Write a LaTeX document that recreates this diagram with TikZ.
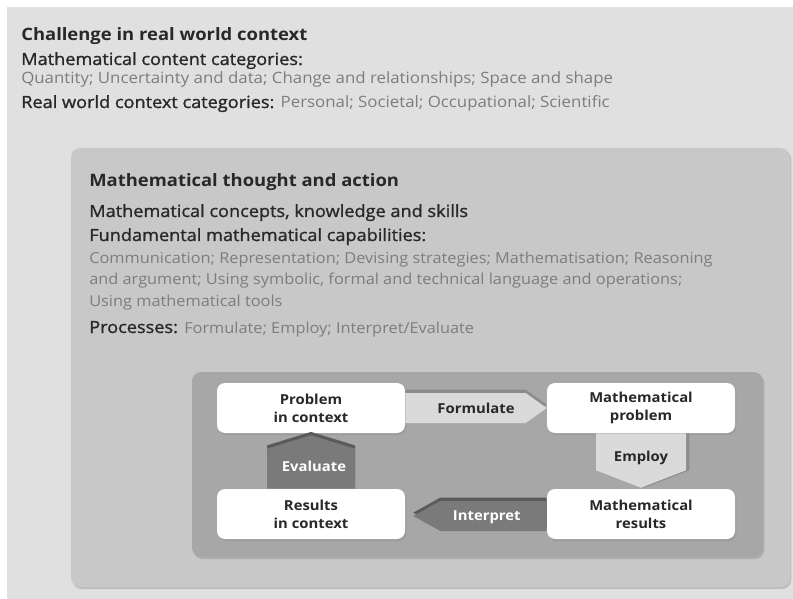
\documentclass[tikz,border=0pt]{standalone}
\usepackage{fontspec}
\setmainfont{Open Sans}[FakeStretch=1.08]
\newfontfamily\mediumfont{Open Sans}[FakeStretch=1.08,FakeBold=1.2]
\usetikzlibrary{calc,shadows}
\definecolor{outerbg}{RGB}{224,224,224}
\definecolor{midbg}{RGB}{200,200,200}
\definecolor{innerbg}{RGB}{167,167,167}
\definecolor{arrowlight}{RGB}{218,218,218}
\definecolor{arrowlightedge}{RGB}{140,140,140}
\definecolor{arrowdark}{RGB}{122,122,122}
\definecolor{arrowdarkedge}{RGB}{90,90,90}
\definecolor{headtext}{RGB}{40,40,40}
\definecolor{bodytext}{RGB}{125,125,125}
\begin{document}
\begin{tikzpicture}[x=0.75pt,y=-0.75pt,
  head/.style={anchor=base west,inner sep=0pt,text=headtext,font=\fontsize{12.8}{15}\selectfont\bfseries},
  sub/.style={anchor=base west,inner sep=0pt,text=headtext,font=\mediumfont\fontsize{12.6}{15}\selectfont},
  body/.style={anchor=base west,inner sep=0pt,text=bodytext,font=\fontsize{11.35}{14}\selectfont},
  topbody/.style={body,font=\fontsize{11.7}{14}\selectfont},
  panel/.style={rounded corners=7pt,drop shadow={shadow xshift=1pt,shadow yshift=-1.5pt,opacity=.35}},
  stage/.style={fill=white,rounded corners=6pt,minimum width=141pt,minimum height=37.5pt,
    inner sep=0pt,align=center,text=headtext,font=\fontsize{10.3}{13.5}\selectfont\bfseries,
    drop shadow={shadow xshift=1pt,shadow yshift=-1.5pt,opacity=.3}},
  lightarrow/.style={fill=arrowlight,preaction={fill=arrowlightedge,transform canvas={shift={#1}}}},
  darkarrow/.style={fill=arrowdark,preaction={fill=arrowdarkedge,transform canvas={shift={#1}}}},
  steplabel/.style={inner sep=0pt,font=\fontsize{10.3}{12}\selectfont\bfseries}]
\useasboundingbox (0,0) rectangle (793,599);
\fill[white] (0,0) rectangle (793,599);
% outer frame
\fill[outerbg] (7,7) rectangle (793,599);
\node[head] (challenge) at (21,41) {Challenge in real world context};
\node[sub] (contentcat) at (21,65) {Mathematical content categories:};
\node[topbody] (contentlist) at (21,84) {Quantity; Uncertainty and data; Change and relationships; Space and shape};
\node[sub] (contextcat) at (21,108) {Real world context categories: {\normalfont\fontsize{11.7}{14}\selectfont\color{bodytext}Personal; Societal; Occupational; Scientific}};
% middle frame
\fill[midbg,panel] (71,148) rectangle (790,587);
\node[head] (thought) at (89,187) {Mathematical thought and action};
\node[sub] (concepts) at (89,217) {Mathematical concepts, knowledge and skills};
\node[sub] (capab) at (89,241) {Fundamental mathematical capabilities:};
\node[body] (capab1) at (89,263) {Communication; Representation; Devising strategies; Mathematisation; Reasoning};
\node[body] (capab2) at (89,285) {and argument; Using symbolic, formal and technical language and operations;};
\node[body] (capab3) at (89,306) {Using mathematical tools};
\node[sub] (processes) at (89,333) {Processes: {\normalfont\fontsize{11.35}{14}\selectfont\color{bodytext}Formulate; Employ; Interpret/Evaluate}};
% inner frame
\fill[innerbg,panel] (192,372) rectangle (763,557);
% cycle boxes
\node[stage] (prob) at (311,408) {Problem\\in context};
\node[stage] (mprob) at (641,408) {Mathematical\\problem};
\node[stage] (res) at (311,514) {Results\\in context};
\node[stage] (mres) at (641,514) {Mathematical\\results};
% Formulate
\fill[lightarrow={(0pt,2.5pt)}] ($(prob.east)+(0,-15)$) -- ($(mprob.west)+(-21,-15)$) -- (mprob.west)
  -- ($(mprob.west)+(-21,15)$) -- ($(prob.east)+(0,15)$) -- cycle;
\node[steplabel,text=headtext] (formulate) at ($(prob.east)!0.5!(mprob.west)$) {Formulate};
% Employ
\fill[lightarrow={(2.5pt,0pt)}] ($(mprob.south)+(-45,0)$) -- ++(0,37) -- ($(mres.north)+(0,-1)$)
  -- ($(mprob.south)+(45,37)$) -- ($(mprob.south)+(45,0)$) -- cycle;
\node[steplabel,text=headtext] (employ) at ($(mprob.south)+(0,25)$) {Employ};
% Interpret
\fill[darkarrow={(0pt,2.5pt)}] ($(mres.west)+(0,-13)$) -- ($(res.east)+(35,-13)$) -- ($(res.east)+(8,2)$)
  -- ($(res.east)+(35,17)$) -- ($(mres.west)+(0,17)$) -- cycle;
\node[steplabel,text=white] (interpret) at ($(mres.west)+(-60,3)$) {Interpret};
% Evaluate
\fill[darkarrow={(0pt,2.5pt)}] ($(res.north)+(-44,0)$) -- ($(res.north)+(-44,-40)$) -- ($(prob.south)+(0,2)$)
  -- ($(res.north)+(44,-40)$) -- ($(res.north)+(44,0)$) -- cycle;
\node[steplabel,text=white] (evaluate) at ($(res.north)+(3,-22)$) {Evaluate};
\end{tikzpicture}
\end{document}
